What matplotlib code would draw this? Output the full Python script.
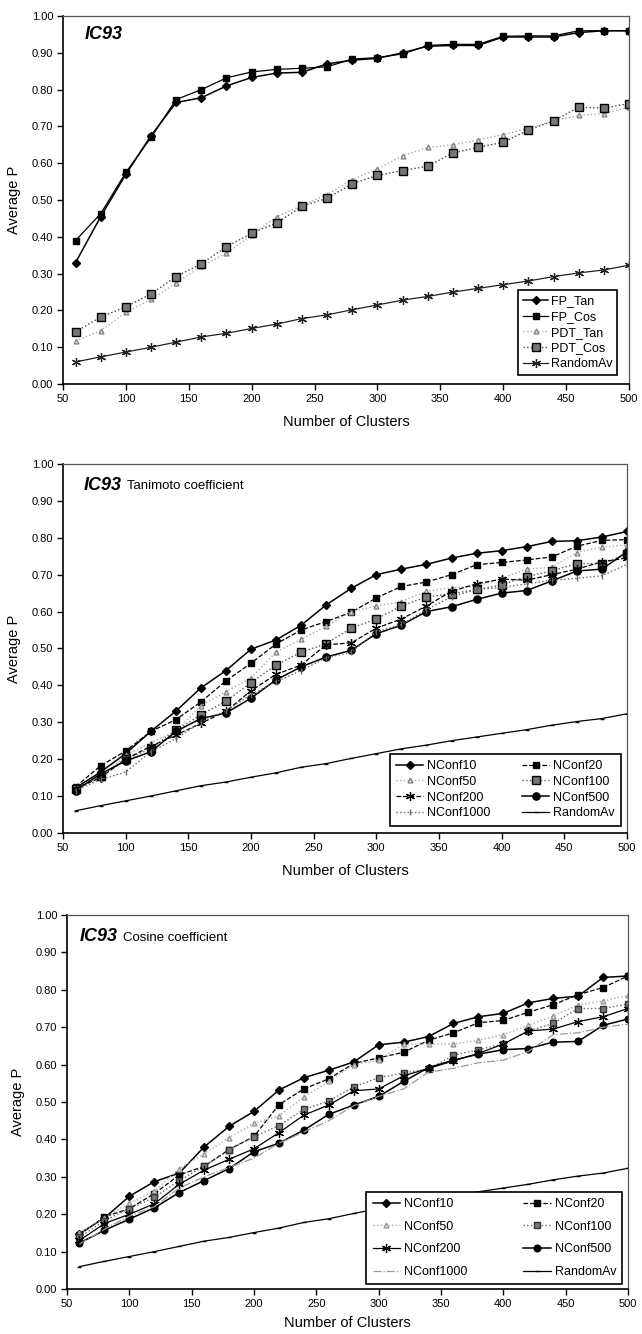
import numpy as np
import matplotlib.pyplot as plt

plt.rcParams['font.family'] = ['Liberation Sans', 'DejaVu Sans']

clusters = list(range(60, 501, 20))

# IC93, fingerprint vs PDT
fp_tan = [0.33, 0.455, 0.57, 0.675, 0.765, 0.778, 0.81, 0.833, 0.845, 0.847, 0.87, 0.88,
          0.885, 0.90, 0.918, 0.92, 0.92, 0.943, 0.943, 0.943, 0.955, 0.96, 0.96]
fp_cos = [0.39, 0.463, 0.575, 0.67, 0.773, 0.80, 0.832, 0.848, 0.855, 0.858, 0.862, 0.883,
          0.887, 0.897, 0.92, 0.923, 0.923, 0.945, 0.946, 0.946, 0.96, 0.96, 0.96]
pdt_tan = [0.117, 0.145, 0.195, 0.23, 0.275, 0.32, 0.355, 0.405, 0.455, 0.485, 0.515, 0.555,
           0.585, 0.62, 0.643, 0.65, 0.663, 0.678, 0.695, 0.715, 0.73, 0.735, 0.752]
pdt_cos = [0.142, 0.182, 0.21, 0.245, 0.292, 0.327, 0.373, 0.41, 0.438, 0.483, 0.505, 0.544,
           0.567, 0.58, 0.592, 0.628, 0.643, 0.657, 0.69, 0.715, 0.752, 0.75, 0.762]
random_av = [0.06, 0.074, 0.087, 0.10, 0.114, 0.128, 0.138, 0.151, 0.163, 0.178, 0.188, 0.202,
             0.215, 0.228, 0.238, 0.25, 0.26, 0.27, 0.28, 0.292, 0.302, 0.31, 0.323]

# Tanimoto coefficient, number of conformers
tan_nconf10 = [0.122, 0.165, 0.215, 0.275, 0.33, 0.393, 0.44, 0.498, 0.523, 0.563, 0.618, 0.663,
               0.70, 0.715, 0.728, 0.745, 0.758, 0.765, 0.776, 0.79, 0.792, 0.802, 0.817]
tan_nconf20 = [0.125, 0.182, 0.222, 0.275, 0.307, 0.355, 0.412, 0.46, 0.512, 0.55, 0.573, 0.598,
               0.637, 0.668, 0.68, 0.70, 0.727, 0.733, 0.74, 0.748, 0.777, 0.793, 0.795]
tan_nconf50 = [0.12, 0.15, 0.21, 0.245, 0.275, 0.345, 0.383, 0.42, 0.49, 0.525, 0.56, 0.60,
               0.615, 0.627, 0.655, 0.665, 0.668, 0.69, 0.715, 0.72, 0.76, 0.775, 0.78]
tan_nconf100 = [0.12, 0.155, 0.20, 0.228, 0.278, 0.32, 0.357, 0.407, 0.455, 0.49, 0.513, 0.555,
                0.58, 0.615, 0.64, 0.648, 0.66, 0.672, 0.695, 0.71, 0.73, 0.73, 0.755]
tan_nconf200 = [0.12, 0.15, 0.20, 0.235, 0.265, 0.297, 0.33, 0.385, 0.43, 0.455, 0.51, 0.515,
                0.555, 0.58, 0.615, 0.655, 0.675, 0.688, 0.685, 0.70, 0.715, 0.735, 0.745]
tan_nconf500 = [0.115, 0.16, 0.195, 0.22, 0.275, 0.31, 0.325, 0.365, 0.415, 0.45, 0.477, 0.495,
                0.54, 0.563, 0.60, 0.613, 0.633, 0.65, 0.657, 0.683, 0.71, 0.715, 0.762]
tan_nconf1000 = [0.115, 0.145, 0.165, 0.22, 0.255, 0.30, 0.33, 0.375, 0.41, 0.44, 0.475, 0.49,
                 0.545, 0.565, 0.605, 0.64, 0.66, 0.665, 0.675, 0.685, 0.69, 0.697, 0.728]

# Cosine coefficient, number of conformers
cos_nconf10 = [0.148, 0.19, 0.248, 0.287, 0.31, 0.38, 0.435, 0.475, 0.532, 0.565, 0.585, 0.607,
               0.653, 0.66, 0.675, 0.71, 0.728, 0.737, 0.765, 0.777, 0.783, 0.833, 0.837]
cos_nconf20 = [0.145, 0.193, 0.215, 0.255, 0.305, 0.328, 0.373, 0.408, 0.493, 0.535, 0.562, 0.603,
               0.618, 0.633, 0.665, 0.685, 0.712, 0.718, 0.74, 0.76, 0.787, 0.806, 0.837]
cos_nconf50 = [0.15, 0.19, 0.23, 0.262, 0.322, 0.362, 0.405, 0.443, 0.463, 0.513, 0.555, 0.60,
               0.612, 0.655, 0.655, 0.655, 0.665, 0.68, 0.705, 0.73, 0.76, 0.77, 0.785]
cos_nconf100 = [0.138, 0.183, 0.215, 0.245, 0.29, 0.328, 0.372, 0.407, 0.437, 0.48, 0.503, 0.54,
                0.565, 0.578, 0.588, 0.625, 0.64, 0.655, 0.69, 0.71, 0.75, 0.75, 0.762]
cos_nconf200 = [0.13, 0.175, 0.20, 0.228, 0.28, 0.318, 0.347, 0.375, 0.418, 0.465, 0.492, 0.53,
                0.535, 0.57, 0.59, 0.61, 0.63, 0.655, 0.69, 0.695, 0.715, 0.728, 0.75]
cos_nconf500 = [0.123, 0.157, 0.187, 0.217, 0.258, 0.29, 0.322, 0.367, 0.39, 0.425, 0.467, 0.492,
                0.515, 0.555, 0.592, 0.612, 0.628, 0.64, 0.643, 0.66, 0.662, 0.705, 0.722]
cos_nconf1000 = [0.12, 0.16, 0.195, 0.22, 0.27, 0.30, 0.325, 0.35, 0.39, 0.42, 0.45, 0.49,
                 0.515, 0.535, 0.58, 0.59, 0.605, 0.612, 0.635, 0.68, 0.685, 0.70, 0.708]

conf_names = ['NConf10', 'NConf20', 'NConf50', 'NConf100', 'NConf200', 'NConf500',
              'NConf1000', 'RandomAv']

x_ticks = list(range(50, 501, 50))
y_ticks = [i / 10 for i in range(11)]

asterisk = (6, 2, 0)


def setup_axes(ax, title, subtitle=None, xpad=8):
    ax.set_xlim(50, 500)
    ax.set_ylim(0, 1)
    ax.set_xticks(x_ticks)
    ax.set_yticks(y_ticks)
    ax.set_yticklabels(['%.2f' % v for v in y_ticks])
    ax.tick_params(direction='out', length=4, width=1, labelsize=8, pad=3)
    for s in ['left', 'bottom']:
        ax.spines[s].set_linewidth(1.2)
    for s in ['top', 'right']:
        ax.spines[s].set_linewidth(0.9)
        ax.spines[s].set_color('#555555')
    ax.set_xlabel('Number of Clusters', fontsize=10.5, labelpad=xpad)
    ax.set_ylabel('Average P', fontsize=10.5, labelpad=8)
    t = ax.text(title[0], title[1], 'IC93', transform=ax.transAxes, fontsize=13,
                fontweight='bold', fontstyle='italic', va='center', ha='left')
    if subtitle:
        ax.annotate(subtitle, xy=(1, 0), xycoords=t, xytext=(4, 1),
                    textcoords='offset points', fontsize=9.5, va='bottom', ha='left')


def frame_legend(leg):
    leg.get_frame().set_edgecolor('black')
    leg.get_frame().set_linewidth(1.2)


fig = plt.figure(figsize=(6.42, 13.34), dpi=100)

# --- panel 1 ---
ax1 = fig.add_axes([0.0981, 0.7121, 0.8816, 0.2759])
ax1.plot(clusters, fp_tan, '-', color='black', lw=1.1, marker='D', ms=3.8, label='FP_Tan')
ax1.plot(clusters, fp_cos, '-', color='black', lw=0.9, marker='s', ms=4.2, label='FP_Cos')
ax1.plot(clusters, pdt_tan, ':', color='#aaaaaa', lw=1.0, marker='^', ms=3.5, mfc='#dddddd',
         mec='#888888', label='PDT_Tan')
ax1.plot(clusters, pdt_cos, ':', color='#444444', lw=1.0, marker='s', ms=5.5, mfc='#777777',
         mec='black', mew=1.0, label='PDT_Cos')
ax1.plot(clusters, random_av, '-', color='#222222', lw=0.9, marker=asterisk, ms=6.5, mew=0.9,
         label='RandomAv')
setup_axes(ax1, (0.038, 0.949))
frame_legend(ax1.legend(loc='lower right', bbox_to_anchor=(0.979, 0.024), fontsize=9,
                        handlelength=2.0, labelspacing=0.3, borderpad=0.4,
                        handletextpad=0.2, fancybox=False, framealpha=1,
                        borderaxespad=0))


def conformer_panel(ax, series, styles, title_pos, subtitle, anchor, spacing, colsp, xpad):
    lines = []
    for y, name, st in zip(series, conf_names, styles):
        lines += ax.plot(clusters, y, label=name, **st)
    setup_axes(ax, title_pos, subtitle, xpad)
    # legend reads row by row: NConf10 | NConf20, NConf50 | NConf100, ...
    order = [0, 2, 4, 6, 1, 3, 5, 7]
    handles = [lines[i] for i in order]
    labels = [conf_names[i] for i in order]
    frame_legend(ax.legend(handles, labels, loc='lower right', bbox_to_anchor=anchor,
                           ncol=2, fontsize=9, handlelength=2.2, labelspacing=spacing,
                           borderpad=0.5, handletextpad=0.3, columnspacing=colsp,
                           fancybox=False, framealpha=1, borderaxespad=0))


# --- panel 2 ---
tan_styles = [
    dict(ls='-', color='black', lw=1.1, marker='D', ms=3.8),
    dict(ls='--', color='black', lw=0.9, marker='s', ms=4.2),
    dict(ls=':', color='#aaaaaa', lw=1.0, marker='^', ms=3.5, mfc='#dddddd', mec='#888888'),
    dict(ls=':', color='#555555', lw=1.0, marker='s', ms=5.5, mfc='#777777', mec='black'),
    dict(ls='--', color='black', lw=0.9, marker=asterisk, ms=6.5, mew=0.9),
    dict(ls='-', color='black', lw=1.1, marker='o', ms=5.2),
    dict(ls=':', color='#666666', lw=1.0, marker='|', ms=4.5),
    dict(ls='-', color='black', lw=0.9, marker='_', ms=3.5),
]
ax2 = fig.add_axes([0.0981, 0.3756, 0.8785, 0.2766])
conformer_panel(ax2, [tan_nconf10, tan_nconf20, tan_nconf50, tan_nconf100, tan_nconf200,
                      tan_nconf500, tan_nconf1000, random_av],
                tan_styles, (0.036, 0.942), 'Tanimoto coefficient', (0.989, 0.02), 0.3, 2.5, 8)

# --- panel 3 ---
cos_styles = [
    dict(ls='-', color='black', lw=1.1, marker='D', ms=3.8),
    dict(ls='--', color='black', lw=0.9, marker='s', ms=4.5),
    dict(ls=':', color='#aaaaaa', lw=1.0, marker='^', ms=3.5, mfc='#dddddd', mec='#999999'),
    dict(ls=':', color='#666666', lw=1.0, marker='s', ms=4.5, mfc='#777777', mec='#333333'),
    dict(ls='-', color='black', lw=0.9, marker=asterisk, ms=6.5, mew=0.9),
    dict(ls='-', color='black', lw=1.1, marker='o', ms=4.8),
    dict(ls='-.', color='#999999', lw=0.9),
    dict(ls='-', color='black', lw=0.9, marker='_', ms=3.5),
]
ax3 = fig.add_axes([0.1044, 0.0337, 0.8738, 0.2804])
conformer_panel(ax3, [cos_nconf10, cos_nconf20, cos_nconf50, cos_nconf100, cos_nconf200,
                      cos_nconf500, cos_nconf1000, random_av],
                cos_styles, (0.022, 0.942), 'Cosine coefficient', (0.99, 0.013), 0.85, 4.5, 5)

fig.savefig('out.png', dpi=100)
